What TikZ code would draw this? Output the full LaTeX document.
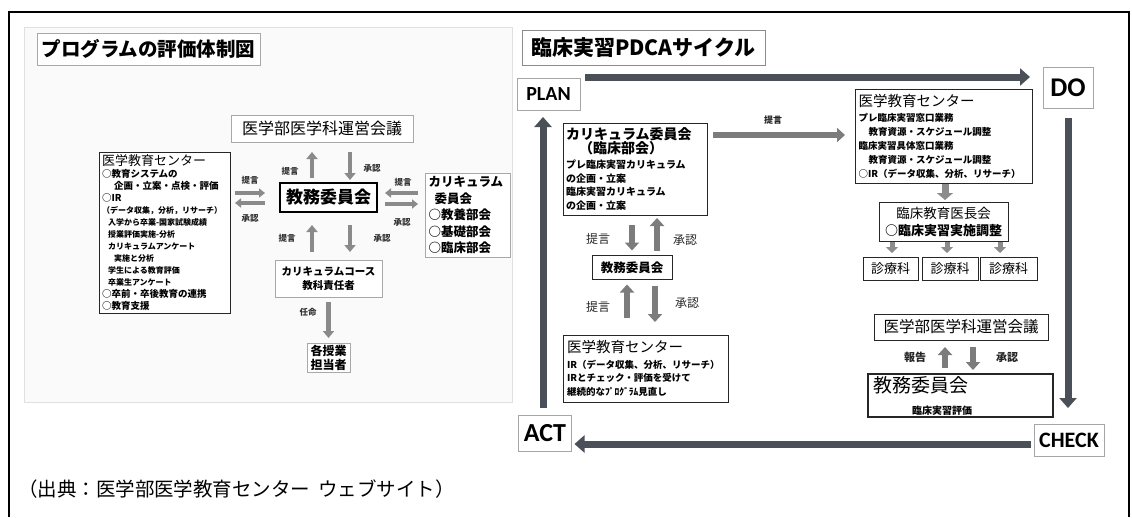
\documentclass[tikz,border=0pt]{standalone}
\usepackage{fontspec}
\setmainfont{Noto Sans CJK JP}
\newfontfamily\carl{Carlito}
\usetikzlibrary{arrows.meta,calc}
\definecolor{pdca}{HTML}{4B5058}
\definecolor{garr}{HTML}{8A8A8A}
\definecolor{rarr}{HTML}{7C7C7C}
\definecolor{lbord}{HTML}{A8A8A8}
\newcommand{\fsz}[1]{\fontsize{#1}{#1}\selectfont}
\begin{document}
\begin{tikzpicture}[x=1pt,y=-1pt,
  every node/.style={inner sep=0pt,outer sep=0pt},
  lbox/.style={draw=lbord,line width=0.8pt,fill=white},
  dbox/.style={draw=black!85,line width=1pt,fill=white},
  tbox/.style={draw=black,line width=1.8pt,fill=white},
  pbox/.style={draw=black!35,line width=0.8pt,fill=white},
  garrow/.style={draw=garr,line width=4.5pt,-{Triangle[width=11pt,length=7pt]}},
  garrowh/.style={draw=garr,line width=3.5pt,-{Triangle[width=9pt,length=6pt]}},
  rarrow/.style={draw=rarr,line width=6pt,-{Triangle[width=14pt,length=8pt]}},
  sarrow/.style={draw=black!45,line width=5pt,-{Triangle[width=12pt,length=6pt]}},
  barrow/.style={draw=black!45,line width=7pt,-{Triangle[width=16pt,length=7pt]}},
  pdcaarrow/.style={draw=pdca,line width=7pt,-{Triangle[width=17pt,length=10pt]}},
  lbl/.style={font=\bfseries\fsz{8.5},text=black!80},
  rlbl/.style={font=\fsz{12},text=black!85}]
\useasboundingbox (0,0) rectangle (1132,517);
\fill[white] (0,0) rectangle (1132,517);
% outer frame
\draw[line width=1.6pt] (9,517) -- (9,12) -- (1129,12) -- (1129,517);
% left panel background
\draw[draw=black!12,fill=black!2,line width=0.6pt] (24,27) rectangle (512,402);

% ---------------- left panel ----------------
\node[lbox,minimum width=223pt,minimum height=32pt,font=\bfseries\fsz{19.5}] (ttlL) at (148.5,49) {プログラムの評価体制図};
\node[lbox,minimum width=182pt,minimum height=27pt,font=\fsz{16}] (uneiL) at (322,128.5) {医学部医学科運営会議};
\node[tbox,minimum width=97pt,minimum height=29pt,font=\bfseries\fsz{17}] (kyomuL) at (328.5,197.5) {教務委員会};
\node[dbox,minimum width=131pt,minimum height=161pt,text width=125pt,align=left,font=\bfseries\fontsize{8}{12}\selectfont] (centerL) at (164.5,232.5) {%
{\mdseries\fsz{13}医学教育センター}\\
{\fsz{9.5}○教育システムの}\\
{\fsz{9.5}\hspace{12pt}企画・立案・点検・評価}\\
{\fsz{9.5}○IR}\\
（データ収集，分析，リサーチ）\\
\hspace{6pt}入学から卒業-国家試験成績\\
\hspace{6pt}授業評価実施-分析\\
\hspace{6pt}カリキュラムアンケート\\
\hspace{12pt}実施と分析\\
\hspace{6pt}学生による教育評価\\
\hspace{6pt}卒業生アンケート\\
{\fsz{9.5}○卒前・卒後教育の連携}\\
{\fsz{9.5}○教育支援}};
\node[lbox,minimum width=85pt,minimum height=84pt,text width=78pt,align=left,font=\bfseries\fontsize{12.5}{16.5}\selectfont] (curricL) at (467.5,215) {カリキュラム\\\hspace{6pt}委員会\\○教養部会\\○基礎部会\\○臨床部会};
\node[lbox,minimum width=107pt,minimum height=37pt,align=center,font=\bfseries\fontsize{10.5}{14}\selectfont] (courseL) at (328.5,278.5) {カリキュラムコース\\教科責任者};
\node[lbox,minimum width=43pt,minimum height=29pt,align=center,font=\bfseries\fontsize{12}{14}\selectfont] (tantoL) at (328.5,357.5) {各授業\\担当者};

\draw[garrow,shorten <=5pt,shorten >=10pt] ([xshift=-16.5pt]kyomuL.north) -- ([xshift=-16.5pt]kyomuL.north |- uneiL.south);
\draw[garrow,shorten <=10pt,shorten >=3pt] ([xshift=21.5pt]kyomuL.north |- uneiL.south) -- ([xshift=21.5pt]kyomuL.north);
\node[lbl] (lt1) at (290,171) {提言};
\node[lbl] (la1) at (372,168) {承認};

\draw[garrowh,shorten <=5pt,shorten >=15pt] ([yshift=4.5pt]kyomuL.west -| centerL.east) -- ([yshift=4.5pt]kyomuL.west);
\draw[garrowh,shorten <=15pt,shorten >=5pt] ([yshift=-5.5pt]kyomuL.west) -- ([yshift=-5.5pt]kyomuL.west -| centerL.east);
\node[lbl] (lt2) at (250,180) {提言};
\node[lbl] (la2) at (250,218) {承認};

\draw[garrowh,shorten <=7pt,shorten >=8pt] ([yshift=4.5pt]kyomuL.east -| curricL.west) -- ([yshift=4.5pt]kyomuL.east);
\draw[garrowh,shorten <=8pt,shorten >=7pt] ([yshift=-6.5pt]kyomuL.east) -- ([yshift=-6.5pt]kyomuL.east -| curricL.west);
\node[lbl] (lt3) at (403,182) {提言};
\node[lbl] (la3) at (402,222) {承認};

\draw[garrow,shorten <=8pt,shorten >=13pt] ([xshift=-16.5pt]courseL.north) -- ([xshift=-16.5pt]courseL.north |- kyomuL.south);
\draw[garrow,shorten <=13pt,shorten >=8pt] ([xshift=21.5pt]courseL.north |- kyomuL.south) -- ([xshift=21.5pt]courseL.north);
\node[lbl] (lt4) at (287,238) {提言};
\node[lbl] (la4) at (382,238) {承認};

\draw[garrow,shorten <=5pt,shorten >=5pt] (courseL.south) -- (tantoL.north);
\node[lbl] (lnin) at (308,312) {任命};

% ---------------- right panel ----------------
\node[draw=black!45,line width=0.8pt,fill=white,minimum width=243pt,minimum height=35pt,font=\bfseries\fsz{21}] (ttlR) at (643.5,47.5) {臨床実習PDCAサイクル};
\node[pbox,minimum width=63pt,minimum height=32pt,font=\carl\bfseries\fsz{20}] (plan) at (548.5,94) {PLAN};
\node[pbox,minimum width=50pt,minimum height=41pt,font=\carl\bfseries\fsz{27}] (do) at (1068,87.5) {DO};
\node[pbox,minimum width=53pt,minimum height=36pt,font=\carl\bfseries\fsz{26}] (act) at (545,433) {ACT};
\node[pbox,minimum width=70pt,minimum height=32pt,font=\carl\bfseries\fsz{22}] (check) at (1069,440) {CHECK};

\coordinate (pst) at ([xshift=5pt,yshift=1pt]plan.north east);
\draw[pdcaarrow,shorten >=13pt] (pst) -- (pst -| do.west);
\draw[pdcaarrow,shorten <=10pt,shorten >=16pt] (do.south) -- (do.south |- check.north);
\coordinate (cst) at ([yshift=-4pt]check.west);
\draw[pdcaarrow,shorten <=3pt,shorten >=3pt] (cst) -- (cst -| act.east);
\draw[pdcaarrow,shorten <=7pt,shorten >=7pt] ([xshift=-2pt]act.north) -- ([xshift=-2pt]act.north |- plan.south);

\node[dbox,minimum width=144pt,minimum height=92pt,text width=138pt,align=left,font=\bfseries\fontsize{10}{13.5}\selectfont] (curricR) at (635,169) {%
{\fsz{14}カリキュラム委員会}\\
{\fsz{14}\hspace{13pt}（臨床部会）}\\[2pt]
プレ臨床実習カリキュラム\\
の企画・立案\\
臨床実習カリキュラム\\
の企画・立案};
\node[dbox,minimum width=80pt,minimum height=24pt,font=\bfseries\fsz{12.5}] (kyomuR) at (632,267.5) {教務委員会};
\node[dbox,minimum width=165pt,minimum height=67pt,text width=157pt,align=left,font=\bfseries\fontsize{9.5}{13.5}\selectfont] (centerB) at (645.5,368.5) {%
{\mdseries\fsz{14.5}医学教育センター}\\[2pt]
IR（データ収集、分析、リサーチ）\\
IRとチェック・評価を受けて\\
継続的なﾌﾟﾛｸﾞﾗﾑ見直し};
\node[dbox,minimum width=177pt,minimum height=94pt,text width=170pt,align=left,font=\bfseries\fontsize{9.5}{13.8}\selectfont] (centerT) at (943.5,136) {%
{\mdseries\fsz{14.5}医学教育センター}\\[2pt]
プレ臨床実習窓口業務\\
\hspace{10pt}教育資源・スケジュール調整\\
臨床実習具体窓口業務\\
\hspace{10pt}教育資源・スケジュール調整\\
○IR（データ収集、分析、リサーチ）};
\node[dbox,minimum width=129pt,minimum height=39pt,align=center,font=\fontsize{13.5}{17}\selectfont] (ichou) at (943.5,221.5) {臨床教育医長会\\{\bfseries\fsz{13}○臨床実習実施調整}};
\node[dbox,minimum width=55pt,minimum height=23pt,font=\fsz{13}] (s1) at (890.5,268.5) {診療科};
\node[dbox,minimum width=56pt,minimum height=23pt,font=\fsz{13}] (s2) at (950,268.5) {診療科};
\node[dbox,minimum width=57pt,minimum height=23pt,font=\fsz{13}] (s3) at (1008.5,268.5) {診療科};
\node[dbox,minimum width=174pt,minimum height=26pt,font=\fsz{15.5}] (uneiR) at (961,327) {医学部医学科運営会議};
\node[dbox,line width=1.5pt,minimum width=185pt,minimum height=43pt,text width=175pt,align=left,font=\fontsize{19}{22}\selectfont] (kyomuB) at (960.5,395.5) {教務委員会\\\hspace{39pt}{\bfseries\fsz{10}臨床実習評価}};

\draw[rarrow,shorten <=6pt,shorten >=10pt] ([yshift=-12pt]curricR.north east) -- ([yshift=-12pt]curricR.north east -| centerT.west);
\node[font=\bfseries\fsz{9},text=black!85] (rt1) at (773,120) {提言};

\draw[rarrow,shorten <=10pt,shorten >=5pt] (kyomuR.north |- curricR.south) -- (kyomuR.north);
\draw[rarrow,shorten <=5pt,shorten >=3pt] ([xshift=25pt]kyomuR.north) -- ([xshift=25pt]kyomuR.north |- curricR.south);
\node[rlbl] (rt2) at (598,239) {提言};
\node[rlbl] (ra2) at (685,240) {承認};

\draw[rarrow,shorten <=17pt,shorten >=5pt] ([xshift=-5pt]kyomuR.south |- centerB.north) -- ([xshift=-5pt]kyomuR.south);
\draw[rarrow,shorten <=6pt,shorten >=13pt] ([xshift=23pt]kyomuR.south) -- ([xshift=23pt]kyomuR.south |- centerB.north);
\node[rlbl] (rt3) at (598,307) {提言};
\node[rlbl] (ra3) at (687,303) {承認};

\draw[barrow,shorten <=1pt,shorten >=2pt] ([xshift=1.5pt]centerT.south) -- ([xshift=1.5pt]ichou.north);
\draw[sarrow,shorten <=1pt,shorten >=4pt] ([xshift=1.5pt]s1.north |- ichou.south) -- ([xshift=1.5pt]s1.north);
\draw[sarrow,shorten <=1pt,shorten >=4pt] ([xshift=-3pt]s2.north |- ichou.south) -- ([xshift=-3pt]s2.north);
\draw[sarrow,shorten <=1pt,shorten >=4pt] ([xshift=-8.5pt]s3.north |- ichou.south) -- ([xshift=-8.5pt]s3.north);

\draw[rarrow,shorten <=6pt,shorten >=7pt] ([xshift=-16pt]uneiR.south |- kyomuB.north) -- ([xshift=-16pt]uneiR.south);
\draw[rarrow,shorten <=7pt,shorten >=4pt] ([xshift=12pt]uneiR.south) -- ([xshift=12pt]uneiR.south |- kyomuB.north);
\node[font=\bfseries\fsz{11},text=black!85] (rr4) at (915,357) {報告};
\node[font=\bfseries\fsz{11},text=black!85] (ra4) at (1007,357) {承認};

% caption
\node[anchor=west,font=\fsz{19.5}] (cap) at (18,489) {（出典：医学部医学教育センター\hspace{8pt}ウェブサイト）};
\end{tikzpicture}
\end{document}
